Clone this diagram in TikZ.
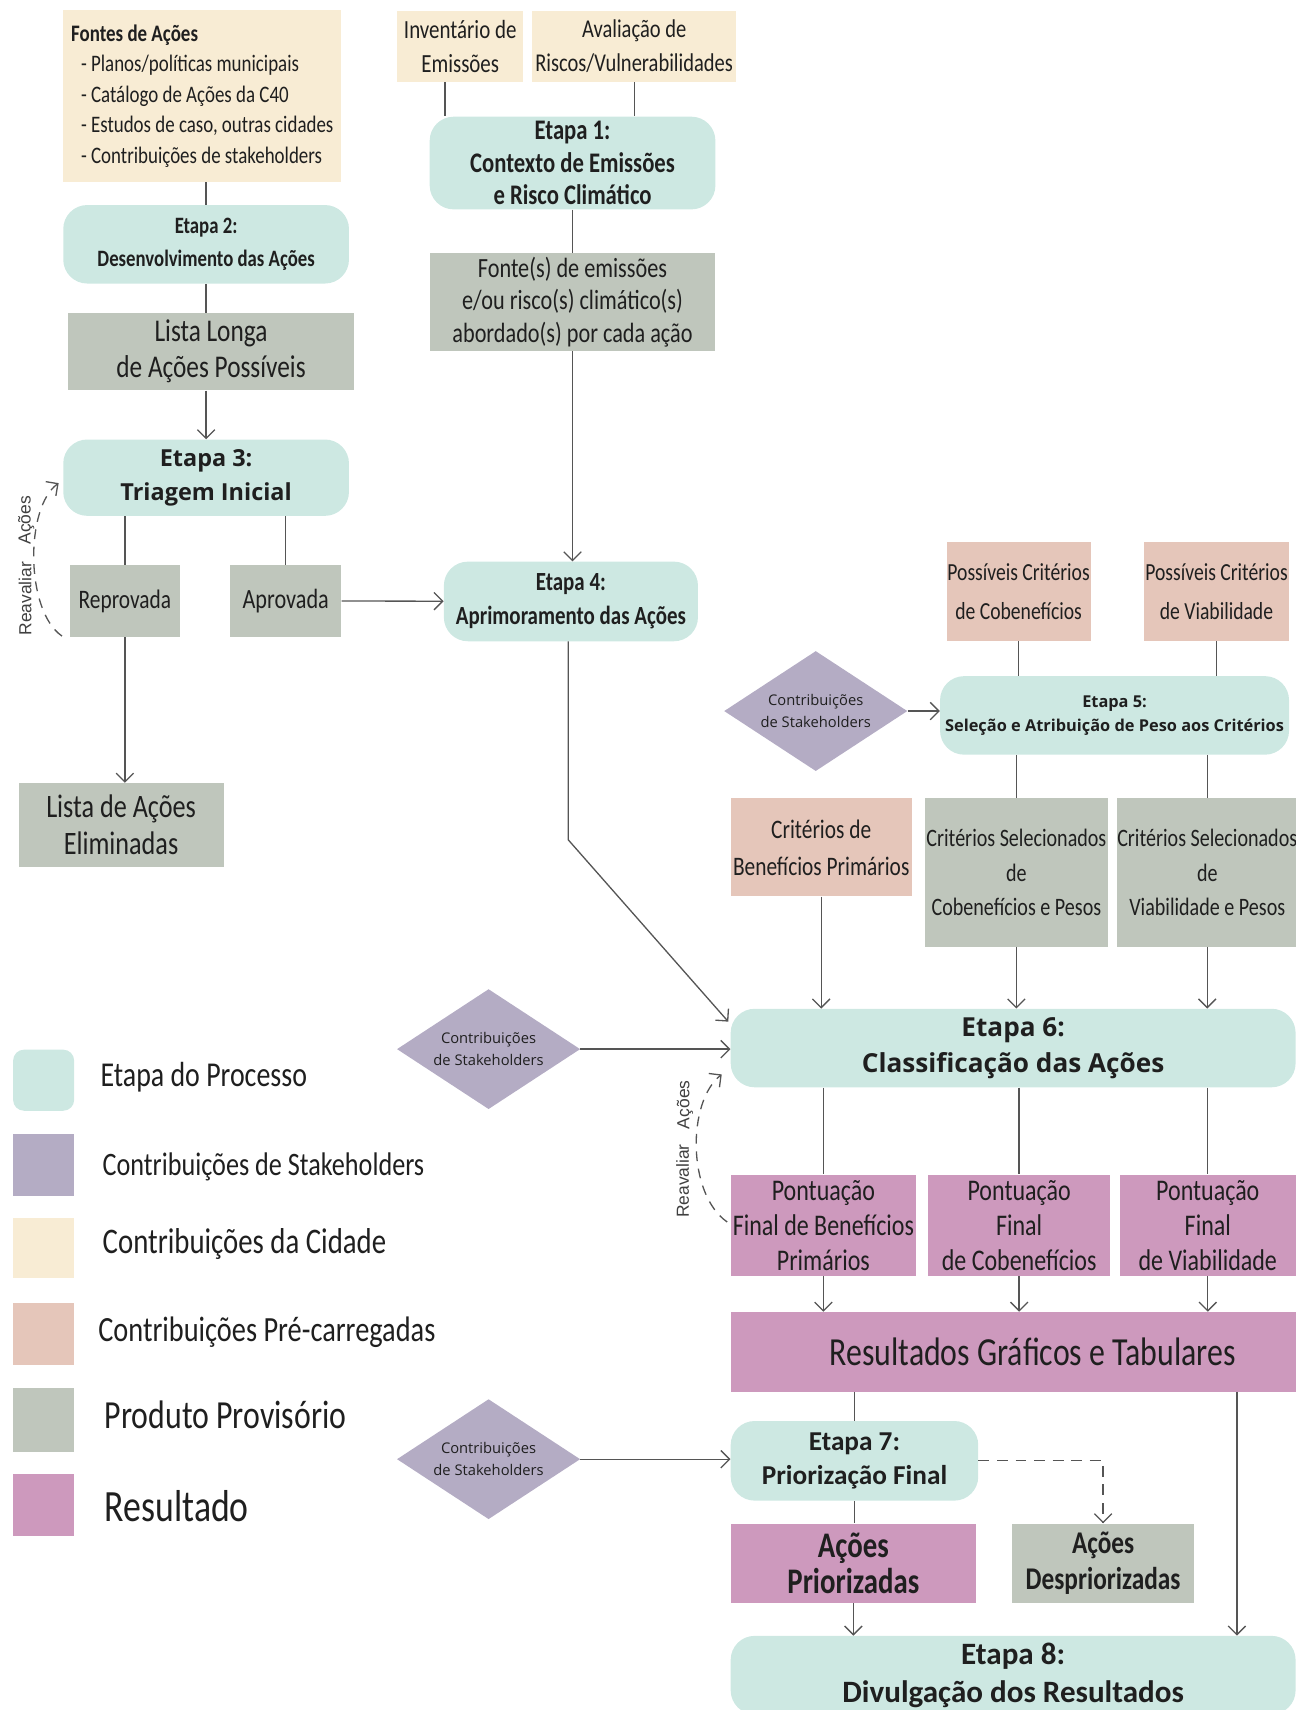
\documentclass[tikz,border=0pt]{standalone}
\usepackage{fontspec}
\setmainfont{Carlito}
\newfontfamily\cond[FakeStretch=0.8]{Carlito}
\newfontfamily\osans{Open Sans}
\newfontfamily\arialf{Liberation Sans}
\usetikzlibrary{shapes.geometric,arrows.meta,calc}

\definecolor{stepc}{RGB}{205,232,226}
\definecolor{stakec}{RGB}{180,172,196}
\definecolor{cityc}{RGB}{248,236,212}
\definecolor{prec}{RGB}{229,198,186}
\definecolor{prodc}{RGB}{191,198,188}
\definecolor{resc}{RGB}{205,153,189}
\definecolor{linec}{RGB}{85,85,85}

\begin{document}
\begin{tikzpicture}[x=1pt,y=-1pt,
    >={Straight Barb[length=8pt,width=16pt]},
    box/.style={inner sep=0pt, align=center, text=black!88},
    etapa/.style={box, fill=stepc, rounded corners=22pt},
    cidade/.style={box, fill=cityc},
    precarga/.style={box, fill=prec},
    produto/.style={box, fill=prodc},
    resultado/.style={box, fill=resc},
    contrib/.style={box, shape=diamond, fill=stakec, aspect=1.55, minimum width=168pt, minimum height=110pt, font=\osans\fontsize{13.5}{20}\selectfont},
    wh/.style 2 args={minimum width=#1pt, minimum height=#2pt},
    link/.style={draw=linec, line width=1.2pt},
    seta/.style={link, ->},
    reval/.style={link, dash pattern=on 9pt off 7pt, ->},
    reltxt/.style={rotate=90, inner sep=0pt, text=black!75, font=\arialf\fontsize{16}{16}\selectfont},
    legtxt/.style={anchor=west, inner sep=0pt, text=black!88},
  ]
  \useasboundingbox (0,0) rectangle (1188,1568);

  % entradas da cidade
  \node[cidade, wh={255}{158}, font=\cond\fontsize{21.7}{28}\selectfont] at (185.5,88) (fontes) {\begin{tabular}{@{}l@{}}\textbf{Fontes de Ações}\\
    \hspace*{9pt}- Planos/políticas municipais\\
    \hspace*{9pt}- Catálogo de Ações da C40\\
    \hspace*{9pt}- Estudos de caso, outras cidades\\
    \hspace*{9pt}- Contribuições de stakeholders\end{tabular}};
  \node[cidade, wh={116}{65}, font=\cond\fontsize{24}{31}\selectfont] at (422,42.5) (inv) {Inventário de\\Emissões};
  \node[cidade, wh={187}{65}, font=\cond\fontsize{23.5}{31}\selectfont] at (581.5,42.5) (aval) {Avaliação de\\Riscos/Vulnerabilidades};

  % etapas 1 a 4
  \node[etapa, wh={262}{85}, font=\cond\bfseries\fontsize{26}{30}\selectfont] at (525,149.5) (st1) {Etapa 1:\\Contexto de Emissões\\e Risco Climático};
  \node[produto, wh={262}{90}, font=\cond\fontsize{25.5}{29.5}\selectfont] at (525,277) (fonte) {Fonte(s) de emissões\\e/ou risco(s) climático(s)\\abordado(s) por cada ação};
  \node[etapa, wh={262}{72}, font=\cond\bfseries\fontsize{21.5}{31}\selectfont] at (189,224) (st2) {Etapa 2:\\Desenvolvimento das Ações};
  \node[produto, wh={263}{71}, font=\cond\fontsize{29}{33}\selectfont] at (193.5,322.5) (longa) {Lista Longa\\de Ações Possíveis};
  \node[etapa, wh={262}{70}, font=\osans\bfseries\fontsize{21.5}{31}\selectfont] at (189,438) (st3) {Etapa 3:\\Triagem Inicial};
  \node[produto, wh={101}{66}, font=\cond\fontsize{24.5}{28}\selectfont] at (114.5,551) (rep) {Reprovada};
  \node[produto, wh={102}{66}, font=\cond\fontsize{25.5}{28}\selectfont] at (262,551) (apr) {Aprovada};
  \node[produto, wh={188}{77}, font=\cond\fontsize{30}{34}\selectfont] at (111,756.5) (elim) {Lista de Ações\\Eliminadas};
  \node[etapa, wh={233}{73}, font=\cond\bfseries\fontsize{24}{31}\selectfont] at (523.5,551.5) (st4) {Etapa 4:\\Aprimoramento das Ações};

  % etapa 5 e critérios
  \node[precarga, wh={132}{91}, font=\cond\fontsize{22.5}{35}\selectfont] at (934,542.5) (pcob) {Possíveis Critérios\\de Cobenefícios};
  \node[precarga, wh={133}{91}, font=\cond\fontsize{22.5}{35}\selectfont] at (1115.5,542.5) (pvia) {Possíveis Critérios\\de Viabilidade};
  \node[etapa, wh={320}{72}, font=\osans\bfseries\fontsize{15}{22}\selectfont] at (1022,656) (st5) {Etapa 5:\\Seleção e Atribuição de Peso aos Critérios};
  \node[contrib] at (748,652) (d1) {Contribuições\\de Stakeholders};
  \node[precarga, wh={166}{90}, font=\cond\fontsize{24.5}{34}\selectfont] at (753,777) (cbp) {Critérios de\\Benefícios Primários};
  \node[produto, wh={168}{136}, font=\cond\fontsize{23}{32}\selectfont] at (932,800) (csc) {Critérios Selecionados\\de\\Cobenefícios e Pesos};
  \node[produto, wh={162}{136}, font=\cond\fontsize{23}{32}\selectfont] at (1107,800) (csv) {Critérios Selecionados\\de\\Viabilidade e Pesos};

  % etapa 6 e resultados
  \node[etapa, wh={518}{72}, font=\osans\bfseries\fontsize{24}{33}\selectfont] at (929,961) (st6) {Etapa 6:\\Classificação das Ações};
  \node[contrib] at (448,962) (d2) {Contribuições\\de Stakeholders};
  \node[resultado, wh={170}{93}, font=\cond\fontsize{27.5}{32}\selectfont] at (755,1123.5) (pa) {Pontuação\\Final de Benefícios\\Primários};
  \node[resultado, wh={167}{93}, font=\cond\fontsize{27.5}{32}\selectfont] at (934.5,1123.5) (pb) {Pontuação\\Final\\de Cobenefícios};
  \node[resultado, wh={161}{93}, font=\cond\fontsize{27.5}{32}\selectfont] at (1107.5,1123.5) (pc) {Pontuação\\Final\\de Viabilidade};
  \node[resultado, wh={518}{73}, font=\cond\fontsize{36.5}{36}\selectfont] at (929,1239.5) (res) {\hspace*{36pt}Resultados Gráficos e Tabulares};

  % etapas 7 e 8
  \node[etapa, wh={227}{73}, font=\bfseries\fontsize{25}{31}\selectfont] at (783.5,1339.5) (st7) {Etapa 7:\\Priorização Final};
  \node[contrib] at (448,1338) (d3) {Contribuições\\de Stakeholders};
  \node[resultado, wh={225}{73}, font=\cond\bfseries\fontsize{33}{33}\selectfont] at (782.5,1433.5) (apri) {Ações\\Priorizadas};
  \node[produto, wh={167}{73}, font=\cond\bfseries\fontsize{29}{33}\selectfont] at (1011.5,1433.5) (desp) {Ações\\Despriorizadas};
  \node[etapa, wh={518}{72}, font=\bfseries\fontsize{28.5}{35}\selectfont] at (929,1536) (st8) {Etapa 8:\\Divulgação dos Resultados};

  % legenda
  \node[etapa, rounded corners=10pt, wh={56}{56}] at (40,990.5) (lg1) {};
  \node[box, fill=stakec, wh={56}{57}] at (40,1068.5) (lg2) {};
  \node[cidade, wh={56}{55}] at (40,1144.5) (lg3) {};
  \node[precarga, wh={56}{57}] at (40,1223.5) (lg4) {};
  \node[produto, wh={56}{58}] at (40,1302) (lg5) {};
  \node[resultado, wh={56}{56}] at (40,1380) (lg6) {};
  \node[legtxt, font=\cond\fontsize{32}{32}\selectfont] at (92,988) (lt1) {Etapa do Processo};
  \node[legtxt, font=\cond\fontsize{30}{30}\selectfont] at (94,1070) (lt2) {Contribuições de Stakeholders};
  \node[legtxt, font=\cond\fontsize{33}{33}\selectfont] at (94,1141) (lt3) {Contribuições da Cidade};
  \node[legtxt, font=\cond\fontsize{32.5}{32}\selectfont] at (90,1222) (lt4) {Contribuições Pré-carregadas};
  \node[legtxt, font=\cond\fontsize{36.5}{36}\selectfont] at (96,1297) (lt5) {Produto Provisório};
  \node[legtxt, font=\cond\fontsize{41}{41}\selectfont] at (96,1381) (lt6) {Resultado};

  % ligações
  \coordinate (invl) at ($(inv.south)+(-14,0)$);
  \draw[link] (invl) -- (invl |- st1.north);
  \draw[link] (aval.south) -- (aval.south |- st1.north);
  \draw[link] (st1) -- (fonte);
  \draw[seta] (fonte.south) -- (fonte.south |- st4.north);
  \draw[link] (st2.north |- fontes.south) -- (st2.north);
  \draw[link] (st2.south) -- (st2.south |- longa.north);
  \draw[seta] (st3.north |- longa.south) -- (st3.north);
  \draw[link] (rep.north |- st3.south) -- (rep.north);
  \draw[link] (apr.north |- st3.south) -- (apr.north);
  \draw[seta] (apr) -- (st4);
  \draw[seta] (rep.south) -- (rep.south |- elim.north);
  \draw[reval] ($(rep.south west)+(-7,-1)$) .. controls (23,560) and (23,465) .. ($(st3.west)+(-4,5)$);
  \node[reltxt] at (23,549) (rv1) {Reavaliar};
  \node[reltxt] at (24,477) (rv2) {Ações};

  \coordinate (dobra) at (521,770);
  \draw[seta] (dobra |- st4.south) -- (dobra) -- ($(st6.north west)+(-2,12)$);
  \draw[link] (pcob.south) -- (pcob.south |- st5.north);
  \draw[link] (pvia.south) -- (pvia.south |- st5.north);
  \draw[seta] (d1.east) -- (d1.east -| st5.west);
  \draw[link] (csc.north |- st5.south) -- (csc.north);
  \draw[link] (csv.north |- st5.south) -- (csv.north);
  \draw[seta] (cbp.south) -- (cbp.south |- st6.north);
  \draw[seta] (csc.south) -- (csc.south |- st6.north);
  \draw[seta] (csv.south) -- (csv.south |- st6.north);
  \draw[seta] (d2.east) -- (d2.east -| st6.west);

  \draw[link] (pa.north |- st6.south) -- (pa.north);
  \draw[link] (pb.north |- st6.south) -- (pb.north);
  \draw[link] (pc.north |- st6.south) -- (pc.north);
  \draw[reval] ($(pa.west)+(-3,-3)$) .. controls (630,1095) and (630,1010) .. ($(st6.south west)+(-8,-12)$);
  \node[reltxt] at (626,1083) (rv3) {Reavaliar};
  \node[reltxt] at (628,1013) (rv4) {Ações};
  \draw[seta] (pa.south) -- (pa.south |- res.north);
  \draw[seta] (pb.south) -- (pb.south |- res.north);
  \draw[seta] (pc.south) -- (pc.south |- res.north);

  \draw[link] (st7.north |- res.south) -- (st7.north);
  \coordinate (resd) at ($(res.south east)+(-54,0)$);
  \draw[seta] (resd) -- (resd |- st8.north);
  \draw[seta] (d3.east) -- (d3.east -| st7.west);
  \draw[link] (st7.south) -- (st7.south |- apri.north);
  \draw[seta, dash pattern=on 10pt off 7pt] (st7.east) -| (desp.north);
  \draw[seta] (apri.south) -- (apri.south |- st8.north);
\end{tikzpicture}
\end{document}
